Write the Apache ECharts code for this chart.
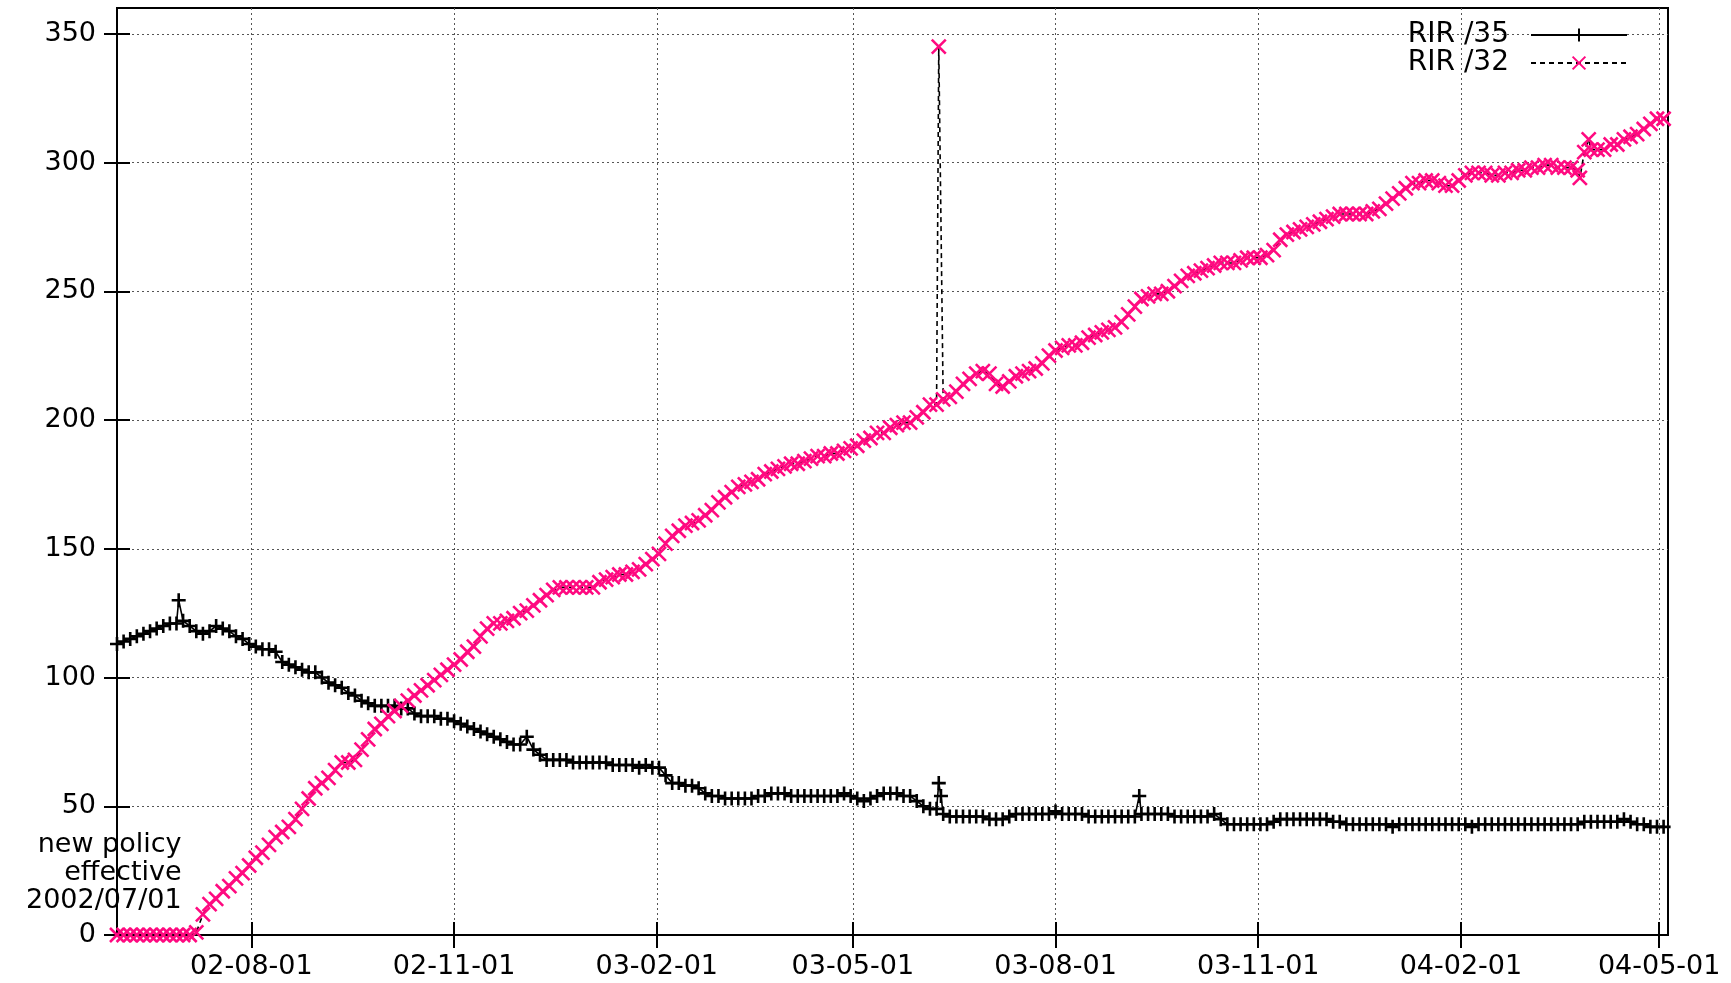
<!DOCTYPE html>
<html>
<head>
<meta charset="utf-8">
<script src="https://cdn.jsdelivr.net/npm/echarts@6.0.0/dist/echarts.min.js"></script>
<style>
html,body{margin:0;padding:0;background:#fff;}
#chart{width:1731px;height:983px;}
</style>
</head>
<body>
<div id="chart"></div>
<script>
// ---- data ----
const startDate = '2002-06-01';
const endDate = '2004-05-05';
const stepDays = 3; // one sample every 3 days, from startDate
const seriesNames = ['RIR /35', 'RIR /32'];
const rir35 = [
113,114,115,116,117,118,119,120,121,121,
122,120,118,117,118,120,119,118,116,115,
113,112,111,111,110,106,105,104,103,102,
102,100,98,97,96,94,93,91,90,89,
89,89,89,88,88,86,85,85,85,84,
84,83,82,81,80,79,78,77,76,75,
74,74,77,72,70,68,68,68,68,67,
67,67,67,67,67,66,66,66,66,65,
66,65,65,62,59,59,58,58,57,55,
54,54,53,53,53,53,53,54,54,55,
55,55,54,54,54,54,54,54,54,54,
55,54,53,52,53,54,55,55,55,54,
54,52,50,49,49,47,46,46,46,46,
46,46,45,45,45,46,47,47,47,47,
47,47,48,47,47,47,47,46,46,46,
46,46,46,46,46,47,47,47,47,47,
46,46,46,46,46,46,47,45,43,43,
43,43,43,43,43,44,45,45,45,45,
45,45,45,45,44,44,43,43,43,43,
43,43,43,42,43,43,43,43,43,43,
43,43,43,43,43,42,43,43,43,43,
43,43,43,43,43,43,43,43,43,43,
43,43,44,44,44,44,44,44,45,44,
43,43,42,42,42
];
const rir32 = [
0,0,0,0,0,0,0,0,0,0,
0,0,1,8,12,14,17,19,22,24,
27,30,32,35,38,40,42,45,49,53,
57,59,61,64,67,67,68,72,76,80,
82,85,87,89,91,93,95,97,99,101,
103,105,107,110,112,116,119,121,121,122,
123,125,126,128,130,132,134,135,135,135,
135,135,135,137,138,139,140,140,141,142,
144,146,148,152,155,157,159,160,161,163,
165,168,170,172,174,175,176,177,179,180,
181,182,183,183,184,185,186,186,187,187,
188,189,190,192,193,195,195,197,198,199,
199,201,203,206,206,208,209,211,214,216,
218,219,218,214,213,215,217,218,219,220,
222,225,227,228,229,229,230,232,233,234,
235,236,238,241,244,247,248,249,249,250,
252,254,256,257,258,259,260,261,261,261,
262,263,263,263,264,266,270,272,273,274,
275,276,277,278,279,280,280,280,280,280,
281,282,284,286,288,290,292,292,293,293,
292,291,291,293,295,296,296,296,295,295,
296,296,297,297,298,298,299,299,298,298,
298,297,304,305,305,305,307,307,309,310,
311,313,315,317,317
];
// single-day outliers (day offset from startDate, value)
const extra35Days = [28, 373, 374, 464];
const extra35Vals = [130, 59, 54, 54];
const extra32Days = [373, 664, 668];
const extra32Vals = [345, 294, 309];
const tickDates = ['2002-08-01','2002-11-01','2003-02-01','2003-05-01','2003-08-01','2003-11-01','2004-02-01','2004-05-01'];
const tickLabels = ['02-08-01','02-11-01','03-02-01','03-05-01','03-08-01','03-11-01','04-02-01','04-05-01'];
const yTicks = [0,50,100,150,200,250,300,350];
const noteDate = '2002-07-01';
const noteText = 'new policy\neffective\n2002/07/01';

// ---- helpers: x is measured in days since startDate ----
const DAY = 86400000;
function ts(s){ const p = s.split('-').map(Number); return Date.UTC(p[0], p[1]-1, p[2]); }
const t0 = ts(startDate);
function dayOf(s){ return Math.round((ts(s) - t0) / DAY); }
function build(vals, exDays, exVals){
  const pts = vals.map((v,i)=>[i*stepDays, v]);
  exDays.forEach((d,i)=>pts.push([d, exVals[i]]));
  pts.sort((a,b)=>a[0]-b[0]);
  return pts;
}
const data35 = build(rir35, extra35Days, extra35Vals);
const data32 = build(rir32, extra32Days, extra32Vals);
const tickVals = tickDates.map(dayOf);
const labelMap = {};
tickVals.forEach((v,i)=>labelMap[v]=tickLabels[i]);
const xMax = dayOf(endDate);

const FONT = 'DejaVu Sans';
const FS = 27;
const gridLine = {show:true, lineStyle:{color:'#555', width:1, type:[2,3]}};
const axisLineStyle = {show:true, lineStyle:{color:'#000', width:2}};
const tickStyle = {show:true, inside:true, length:13, lineStyle:{color:'#000', width:2}};

const chart = echarts.init(document.getElementById('chart'), null, {renderer:'canvas'});
chart.setOption({
  animation:false,
  backgroundColor:'#fff',
  textStyle:{fontFamily:FONT},
  grid:{left:117, right:63, top:8, bottom:48, show:true, borderColor:'#000', borderWidth:2, backgroundColor:'rgba(0,0,0,0)'},
  legend:{
    data:seriesNames, orient:'vertical', align:'right', right:103, top:21,
    itemWidth:96, itemHeight:16, itemGap:0, padding:0,
    textStyle:{fontSize:28, fontFamily:FONT, color:'#000', lineHeight:28, padding:[0,17,0,0]}
  },
  xAxis:[{
    type:'value', position:'bottom', min:0, max:xMax,
    axisLine:axisLineStyle,
    axisTick:Object.assign({customValues:tickVals}, tickStyle),
    axisLabel:{customValues:tickVals, formatter:v=>labelMap[v]||'', color:'#000', fontSize:FS, fontFamily:FONT, margin:18, hideOverlap:false},
    splitLine:gridLine
  },{
    type:'value', position:'top', min:0, max:xMax,
    axisLine:axisLineStyle,
    axisTick:Object.assign({customValues:tickVals}, tickStyle),
    axisLabel:{show:false},
    splitLine:{show:false}
  }],
  yAxis:[{
    type:'value', position:'left', min:0, max:360, interval:50,
    axisLine:axisLineStyle,
    axisTick:Object.assign({customValues:yTicks}, tickStyle),
    axisLabel:{customValues:yTicks, color:'#000', fontSize:FS, fontFamily:FONT, margin:21},
    splitLine:gridLine
  },{
    type:'value', position:'right', min:0, max:360, interval:50,
    axisLine:axisLineStyle,
    axisTick:Object.assign({customValues:yTicks}, tickStyle),
    axisLabel:{show:false},
    splitLine:{show:false}
  }],
  series:[{
    name:seriesNames[0], type:'line', xAxisIndex:0, yAxisIndex:0,
    data:data35, showAllSymbol:true,
    symbol:'path://M0,5L10,5M5,0L5,10', symbolSize:14,
    lineStyle:{color:'#000', width:1.6},
    itemStyle:{color:'#000', borderColor:'#000', borderWidth:2.6},
    z:2
  },{
    name:seriesNames[1], type:'line', xAxisIndex:0, yAxisIndex:0,
    data:data32, showAllSymbol:true,
    symbol:'path://M0,0L10,10M10,0L0,10', symbolSize:14,
    lineStyle:{color:'#000', width:1.6, type:[5,4]},
    itemStyle:{color:'#ff0a80', borderColor:'#ff0a80', borderWidth:2.6},
    z:3,
    markPoint:{
      silent:true, symbol:'rect', symbolSize:1,
      itemStyle:{color:'rgba(0,0,0,0)', borderWidth:0},
      label:{show:true, position:'left', distance:1, formatter:noteText, color:'#000', fontSize:FS, fontFamily:FONT, lineHeight:28},
      data:[{coord:[dayOf(noteDate), 24]}]
    }
  }]
});
</script>
</body>
</html>
